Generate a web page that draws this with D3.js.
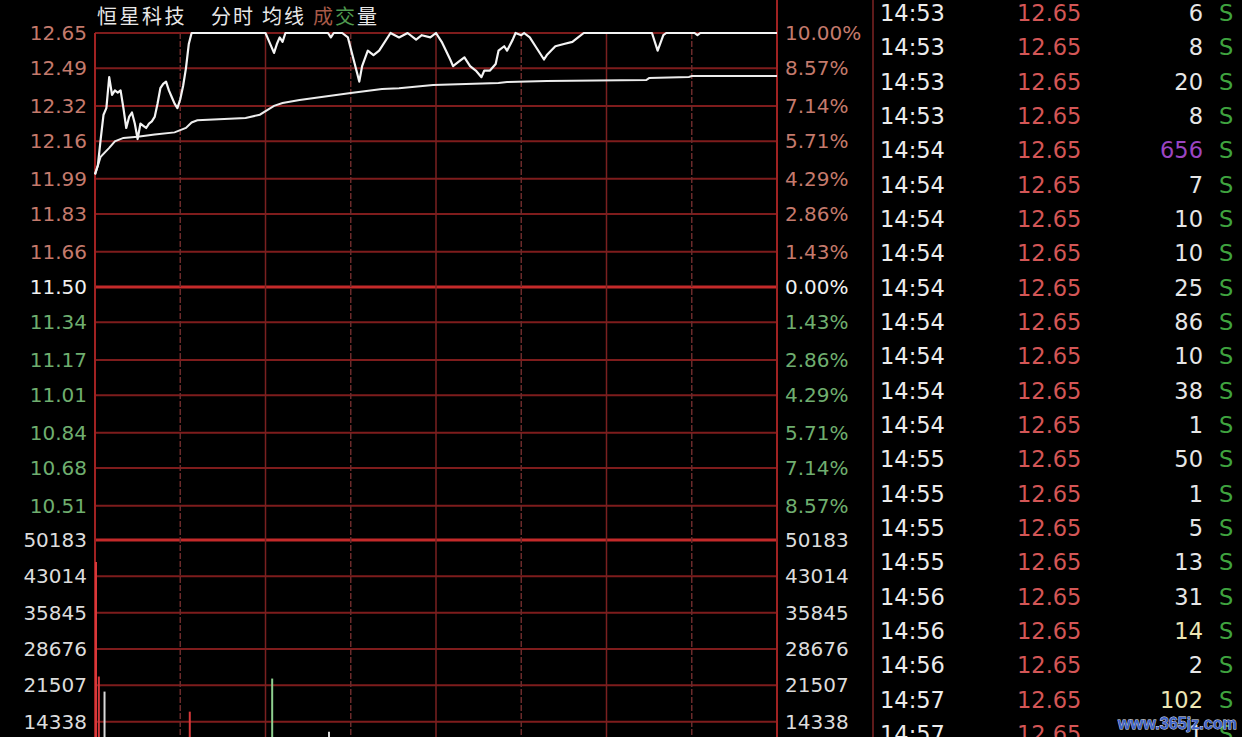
<!DOCTYPE html>
<html><head><meta charset="utf-8">
<script src="https://cdn.jsdelivr.net/npm/d3@7"></script>
<style>html,body{margin:0;padding:0;background:#000;overflow:hidden}</style>
</head><body><svg id="c" width="1242" height="737"></svg>
<script>
// ---------- data ----------
const stockName = "恒星科技";
const legendItems = ["分时", "均线", "成", "交", "量"];
const priceMinutes = [0,1,2,3,4,5,6,7,8,9,10,11,12,13,14,15,16,17,18,19,20,21,22,23,24,25,26,27,28,29,30,31,32,33,34,
  60,61,63,64,65,66,67,82,83,84,87,89,91,93,94,96,98,100,104,107,110,113,115,118,120,122,125,126,128,130,132,134,136,137,139,
  141,142,144,145,147,148,150,151,153,155,158,159,162,165,168,170,172,196,198,200,201,211,212,213,240];
const priceValues = [12.01,12.05,12.17,12.28,12.31,12.45,12.37,12.39,12.38,12.39,12.31,12.22,12.27,12.29,12.24,12.17,12.24,12.23,12.22,12.24,
  12.25,12.27,12.33,12.40,12.42,12.43,12.39,12.36,12.33,12.31,12.35,12.41,12.49,12.60,12.65,
  12.65,12.62,12.56,12.60,12.63,12.61,12.65,12.65,12.63,12.65,12.65,12.63,12.53,12.43,12.50,12.57,12.55,12.57,12.65,12.63,12.65,
  12.62,12.64,12.63,12.65,12.61,12.53,12.50,12.52,12.54,12.50,12.48,12.45,12.48,12.48,12.51,12.57,12.59,12.57,12.62,12.65,12.64,
  12.65,12.63,12.59,12.53,12.55,12.59,12.60,12.61,12.63,12.65,12.65,12.57,12.64,12.65,12.65,12.64,12.65,12.65];
const avgMinutes = [0,2,5,7,10,15,21,28,32,34,36,53,58,63,66,72,90,101,107,119,142,145,159,194,195,209,210,240];
const avgValues = [12.01,12.09,12.13,12.16,12.175,12.18,12.19,12.20,12.22,12.245,12.255,12.265,12.28,12.32,12.333,12.347,
  12.378,12.396,12.40,12.415,12.424,12.428,12.433,12.437,12.446,12.451,12.455,12.455];
const volMinutes = [0,1,3,33,62,82];
const volValues = [45830,23250,20280,16320,22850,12360];
const volDirection = ["up","up","flat","up","down","flat"];
const priceTicks = [12.65,12.49,12.32,12.16,11.99,11.83,11.66,11.50,11.34,11.17,11.01,10.84,10.68,10.51];
const pctTicks = ["10.00%","8.57%","7.14%","5.71%","4.29%","2.86%","1.43%","0.00%","1.43%","2.86%","4.29%","5.71%","7.14%","8.57%"];
const volTicks = [50183,43014,35845,28676,21507,14338];
const timeTicks = [0,30,60,90,120,150,180,210,240];
const tradeTimes = ["14:53","14:53","14:53","14:53","14:54","14:54","14:54","14:54","14:54","14:54","14:54","14:54","14:54",
  "14:55","14:55","14:55","14:55","14:56","14:56","14:56","14:57","14:57"];
const tradePrices = ["12.65","12.65","12.65","12.65","12.65","12.65","12.65","12.65","12.65","12.65","12.65","12.65","12.65",
  "12.65","12.65","12.65","12.65","12.65","12.65","12.65","12.65","12.65"];
const tradeVolumes = [6,8,20,8,656,7,10,10,25,86,10,38,1,50,1,5,13,31,14,2,102,1];
const tradeSides = ["S","S","S","S","S","S","S","S","S","S","S","S","S","S","S","S","S","S","S","S","S","S"];
const prevClose = 11.50;

// ---------- drawing ----------
const svg = d3.select("#c");
svg.append("rect").attr("width",1242).attr("height",737).attr("fill","#000");
const NUM = "'DejaVu Sans', sans-serif";
const x = d3.scaleLinear().domain([0,240]).range([95,777]);
const yP = d3.scaleLinear().domain([11.50,12.65]).range([287,33]);
const yV = d3.scaleLinear().domain([0,50183]).range([794.4,540]);

const grid = svg.append("g");
grid.selectAll("line.hp").data(priceTicks).join("line")
  .attr("x1",95).attr("x2",777).attr("y1",d=>yP(d)).attr("y2",d=>yP(d))
  .attr("stroke",d=>d===prevClose?"#c42a2a":"#7e1c1c").attr("stroke-width",d=>d===prevClose?3:2);
grid.selectAll("line.hv").data(volTicks).join("line")
  .attr("x1",95).attr("x2",777).attr("y1",d=>yV(d)).attr("y2",d=>yV(d))
  .attr("stroke",(d,i)=>i===0?"#c42a2a":"#7e1c1c").attr("stroke-width",(d,i)=>i===0?3:2);
grid.selectAll("line.v").data(timeTicks).join("line")
  .attr("x1",d=>x(d)).attr("x2",d=>x(d))
  .attr("y1",(d,i)=>i===timeTicks.length-1?0:33).attr("y2",737)
  .attr("stroke",(d,i)=>(i===0||i===timeTicks.length-1)?"#a02222":(i%2===0?"#7a2020":"#6a2a2a"))
  .attr("stroke-width",(d,i)=>(i===0||i===timeTicks.length-1)?2:1.5)
  .attr("stroke-dasharray",(d,i)=>(i%2===1)?"6,2":null);
svg.append("line").attr("x1",873).attr("x2",873).attr("y1",0).attr("y2",737).attr("stroke","#5e1a1a").attr("stroke-width",2);

function styleAxis(g){ g.select(".domain").remove(); g.selectAll("text").attr("font-family",NUM).attr("font-size",20); }
const colorFor = d => d>prevClose+1e-9?"#c47a6c":(d<prevClose-1e-9?"#6fae6f":"#f0f0f0");
svg.append("g").attr("transform","translate(95,0)")
  .call(d3.axisLeft(yP).tickValues(priceTicks).tickFormat(d3.format(".2f")).tickSize(0).tickPadding(8))
  .call(styleAxis).selectAll("text").attr("fill",d=>colorFor(d));
svg.append("g").attr("transform","translate(777,0)")
  .call(d3.axisRight(yP).tickValues(priceTicks).tickFormat((d,i)=>pctTicks[i]).tickSize(0).tickPadding(8))
  .call(styleAxis).selectAll("text").attr("fill",d=>colorFor(d));
svg.append("g").attr("transform","translate(95,0)")
  .call(d3.axisLeft(yV).tickValues(volTicks).tickFormat(d3.format("d")).tickSize(0).tickPadding(8))
  .call(styleAxis).selectAll("text").attr("fill","#dcdcdc");
svg.append("g").attr("transform","translate(777,0)")
  .call(d3.axisRight(yV).tickValues(volTicks).tickFormat(d3.format("d")).tickSize(0).tickPadding(8))
  .call(styleAxis).selectAll("text").attr("fill","#dcdcdc");

const volColor = {up:"#d8383a", down:"#8fcf8f", flat:"#d8d8d8"};
svg.append("g").selectAll("line").data(volMinutes).join("line")
  .attr("x1",d=>x(d)+1).attr("x2",d=>x(d)+1)
  .attr("y1",yV(0)).attr("y2",(d,i)=>yV(volValues[i]))
  .attr("stroke",(d,i)=>volColor[volDirection[i]]).attr("stroke-width",2);

const line = d3.line().x(d=>x(d[0])).y(d=>yP(d[1]));
svg.append("path").datum(avgMinutes.map((m,i)=>[m,avgValues[i]])).attr("d",line)
  .attr("fill","none").attr("stroke","#ececec").attr("stroke-width",2);
svg.append("path").datum(priceMinutes.map((m,i)=>[m,priceValues[i]])).attr("d",line)
  .attr("fill","none").attr("stroke","#f4f4f4").attr("stroke-width",2.2).attr("stroke-linejoin","round");

const CJK = "'Noto Sans CJK SC', sans-serif";
svg.append("text").attr("x",97).attr("y",24).attr("font-family",CJK).attr("font-size",20)
  .attr("letter-spacing",2.5).attr("fill","#e8e8e8").text(stockName);
const t2 = svg.append("text").attr("x",211).attr("y",24).attr("font-family",CJK).attr("font-size",20).attr("letter-spacing",2);
t2.append("tspan").attr("fill","#e8e8e8").text(legendItems[0]);
t2.append("tspan").attr("dx",7).attr("fill","#e8e8e8").text(legendItems[1]);
t2.append("tspan").attr("dx",7).attr("fill","#a85a48").text(legendItems[2]);
t2.append("tspan").attr("fill","#4f9a4f").text(legendItems[3]);
t2.append("tspan").attr("fill","#e8e8e8").text(legendItems[4]);

const rowY = d3.scaleLinear().domain([0,21]).range([13,734]);
const rows = svg.append("g").selectAll("g").data(tradeTimes).join("g")
  .attr("transform",(d,i)=>`translate(0,${rowY(i)})`)
  .attr("font-family",NUM).attr("font-size",22.5);
rows.append("text").attr("x",880).attr("dy","0.36em").attr("fill","#ececec").text(d=>d);
rows.append("text").attr("x",1017).attr("dy","0.36em").attr("fill","#d45656").text((d,i)=>tradePrices[i]);
rows.append("text").attr("x",1203).attr("dy","0.36em").attr("text-anchor","end")
  .attr("fill",(d,i)=>tradeVolumes[i]>=500?"#9b45c2":(tradeVolumes[i]>=100||tradeVolumes[i]===14?"#ece6b4":"#e6e6e6"))
  .text((d,i)=>tradeVolumes[i]);
rows.append("text").attr("x",1219).attr("dy","0.36em").attr("fill","#3fa33f").text((d,i)=>tradeSides[i]);

svg.append("text").attr("x",1118).attr("y",729).attr("font-family","'Liberation Sans', sans-serif")
  .attr("font-weight","bold").attr("font-size",17).attr("textLength",119).attr("lengthAdjust","spacingAndGlyphs")
  .attr("fill","#3f63c6").attr("stroke","#e8eefa").attr("stroke-width",0.8).attr("paint-order","stroke")
  .text("www.365jz.com");
</script></body></html>
